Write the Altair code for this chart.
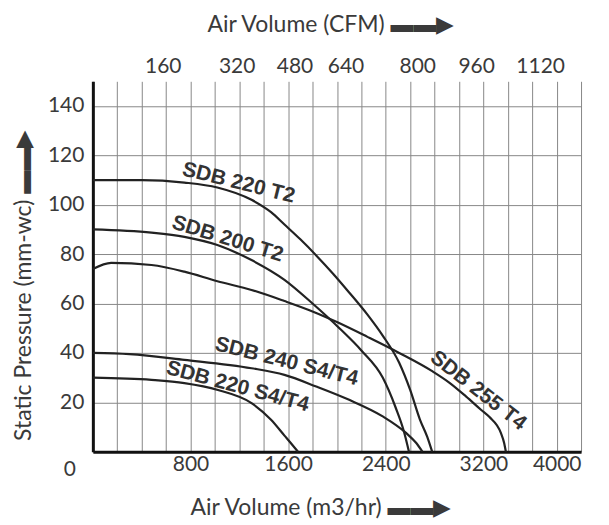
import altair as alt
import pandas as pd

# ---- curve data (air volume m3/hr, static pressure mm-wc) ----
series_names = ["SDB 220 T2", "SDB 200 T2", "SDB 255 T4", "SDB 240 S4/T4", "SDB 220 S4/T4"]

sdb220t2_flow = [0, 400, 750, 1020, 1300, 1460, 1570, 1700, 1830, 1970, 2100, 2250, 2375, 2510, 2600, 2680, 2740, 2780]
sdb220t2_pres = [110, 110, 109, 107, 102, 97, 92, 86, 79.5, 72, 64.5, 55.5, 47, 36, 25, 13, 6, 0]

sdb200t2_flow = [0, 480, 750, 1020, 1300, 1570, 1800, 2020, 2200, 2375, 2480, 2550, 2590]
sdb200t2_pres = [90, 88.7, 87, 83.7, 77.6, 69.6, 60, 50, 41, 30, 18, 8, 0]

sdb255t4_flow = [0, 150, 480, 750, 1020, 1300, 1570, 1800, 2000, 2250, 2510, 2784, 2920, 3057, 3180, 3250, 3343, 3370, 3384]
sdb255t4_pres = [74, 76.5, 75.6, 72.9, 69, 65.5, 61, 56.8, 52.5, 46.5, 40, 32.5, 28, 22.4, 17, 14, 7.6, 3.5, 0]

sdb240s4_flow = [0, 300, 750, 1300, 1570, 1830, 2100, 2375, 2566, 2650, 2700]
sdb240s4_pres = [40, 39.5, 37.2, 33.8, 31.1, 26.4, 21, 14.3, 7.6, 3.5, 0]

sdb220s4_flow = [0, 480, 750, 1025, 1300, 1460, 1570, 1630, 1680]
sdb220s4_pres = [30, 29.1, 27.8, 25, 19.7, 12.9, 6.5, 3, 0]

flows = [sdb220t2_flow, sdb200t2_flow, sdb255t4_flow, sdb240s4_flow, sdb220s4_flow]
pressures = [sdb220t2_pres, sdb200t2_pres, sdb255t4_pres, sdb240s4_pres, sdb220s4_pres]

# ---- curve labels (anchor in data units) ----
label_texts = ["SDB 220 T2", "SDB 200 T2", "SDB 240 S4/T4", "SDB 220 S4/T4", "SDB 255 T4"]
label_flow = [1194, 1104, 1587, 1186, 3157]
label_pres = [108.8, 86.1, 36.4, 26.3, 24.7]
label_angle = [14, 17, 14, 15, 38]

# ---- axis ticks ----
x_tick_values = [0, 200, 400, 600, 800, 1000, 1200, 1400, 1600, 1800, 2000, 2200, 2400,
                 2600, 2800, 3000, 3200, 3400, 3600, 3800, 4000]
y_tick_values = [0, 10, 20, 30, 40, 50, 60, 70, 80, 90, 100, 110, 120, 130, 140, 150]

cfm_labels = ["160", "320", "480", "640", "800", "960", "1120"]
cfm_positions = [573, 1178, 1652, 2070, 2658, 3141, 3665]

rows = []
for name, fl, pr in zip(series_names, flows, pressures):
    for i, (f, p) in enumerate(zip(fl, pr)):
        rows.append({"series": name, "flow": f, "pressure": p, "idx": i})
df = pd.DataFrame(rows)

lab_df = pd.DataFrame({"text": label_texts, "flow": label_flow, "pres": label_pres})
cfm_df = pd.DataFrame({"pos": cfm_positions, "label": cfm_labels})
zero_df = pd.DataFrame({"flow": [0], "pres": [0], "text": ["0"]})

TXT = "#3a3a3a"
FONT = "Lato"
TICK_FS = 21
TITLE_FS = 23

x_scale = alt.Scale(domain=[0, 4000], nice=False, zero=False)
y_scale = alt.Scale(domain=[0, 150], nice=False)

bottom_axis = alt.Axis(
    values=x_tick_values, format="d",
    labelExpr="datum.value > 0 && datum.value % 800 == 0 ? datum.label : ''",
    grid=True, gridColor="#888", gridWidth=1,
    domainColor="#111", domainWidth=3,
    ticks=False, tickSize=0,
    labelFont=FONT, labelFontSize=TICK_FS, labelColor=TXT, labelPadding=2, labelOverlap=False,
    title="Air Volume (m3/hr)  ▬▬▶", titleFont=FONT, titleFontSize=TITLE_FS, titleFontWeight="normal",
    titleColor=TXT, titleX=228, titleY=56, titleBaseline="middle", titleAlign="center",
)

left_axis = alt.Axis(
    values=y_tick_values, format="d",
    labelExpr="datum.value > 0 && datum.value < 150 && datum.value % 20 == 0 ? datum.label : ''",
    grid=True, gridColor="#888", gridWidth=1,
    domainColor="#111", domainWidth=3,
    ticks=False, tickSize=0,
    labelFont=FONT, labelFontSize=TICK_FS, labelColor=TXT, labelPadding=9, labelOverlap=False,
    title="Static Pressure (mm-wc)  ▬▬▶", titleFont=FONT, titleFontSize=TITLE_FS, titleFontWeight="normal",
    titleColor=TXT, titleX=-69, titleY=204, titleAngle=270, titleBaseline="middle", titleAlign="center",
)

top_axis = alt.Axis(
    orient="top", values=cfm_positions,
    labelExpr=" : ".join(
        [f"datum.value == {p} ? '{l}'" for p, l in zip(cfm_positions, cfm_labels)]
    ) + " : ''",
    grid=False, domain=False, ticks=False, tickSize=0,
    labelFont=FONT, labelFontSize=TICK_FS, labelColor=TXT, labelPadding=5, labelOverlap=False,
    title="Air Volume (CFM)  ▬▬▶", titleFont=FONT, titleFontSize=TITLE_FS, titleFontWeight="normal",
    titleColor=TXT, titleX=238, titleY=-57, titleBaseline="middle", titleAlign="center",
)

lines = alt.Chart(df).mark_line(color="#222", strokeWidth=2.2, interpolate="monotone").encode(
    x=alt.X("flow:Q", scale=x_scale, axis=bottom_axis),
    y=alt.Y("pressure:Q", scale=y_scale, axis=left_axis),
    detail="series:N",
    order="idx:Q",
)

top = alt.Chart(cfm_df).mark_point(opacity=0).encode(
    x=alt.X("pos:Q", scale=x_scale, axis=top_axis),
)

labels = []
for t, f, p, a in zip(label_texts, label_flow, label_pres, label_angle):
    one = lab_df[lab_df["text"] == t]
    labels.append(
        alt.Chart(one).mark_text(
            angle=a, font="Liberation Sans", fontWeight="bold", fontSize=21,
            color="#333", align="center", baseline="middle",
        ).encode(
            x=alt.X("flow:Q", scale=x_scale, axis=None),
            y=alt.Y("pres:Q", scale=y_scale),
            text="text:N",
        )
    )

zero = alt.Chart(zero_df).mark_text(
    font=FONT, fontSize=TICK_FS, color=TXT, dx=-23, dy=18, align="center", baseline="middle"
).encode(
    x=alt.X("flow:Q", scale=x_scale, axis=None),
    y=alt.Y("pres:Q", scale=y_scale),
    text="text:N",
)

chart = alt.layer(lines, top, *labels, zero).resolve_axis(x="independent").properties(
    width=489, height=371,
    padding={"left": 85, "top": 73, "right": 20, "bottom": 70},
    autosize=alt.AutoSizeParams(type="none"),
    background="white",
).configure_view(stroke=None)

chart.save("out.html", embed_options={"renderer": "svg", "actions": False})
